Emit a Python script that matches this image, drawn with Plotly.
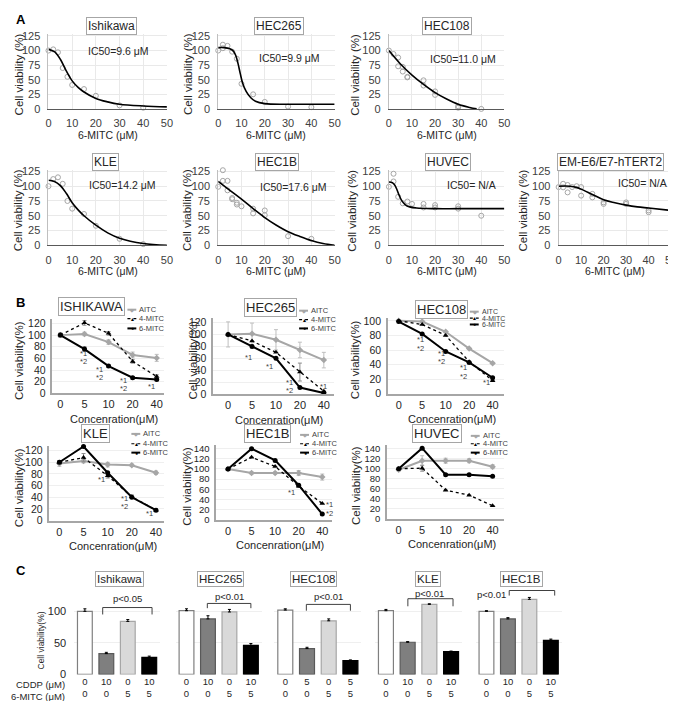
import plotly.graph_objects as go

# ================= DATA =================
# ---- Panel A: 6-MITC dose response (points + fitted curve)
A_TICKS = [0, 10, 20, 30, 40, 50]

ISH_PX = [0, 2, 4, 6, 8, 10, 15, 20, 30, 40]
ISH_PY = [100, 102, 97, 70, 55, 41, 34, 22.5, 6, 2]
ISH_FX = [0, 2.5, 5, 7.5, 10, 12.5, 15, 20, 25, 30, 40, 50]
ISH_FY = [102, 98, 85, 65, 48, 37, 29, 18, 12, 8, 5, 3.5]

H265_PX = [0, 2, 2, 4, 6, 8, 10, 15, 20, 30, 40]
H265_PY = [100, 110, 104, 108, 98, 86, 43, 25, 12, 4, 3]
H265_FX = [0, 2.5, 5, 6.5, 7.5, 8.5, 9.5, 10.5, 12, 14, 16, 20, 30, 50]
H265_FY = [105, 105, 103, 99, 92, 78, 60, 44, 30, 19, 13, 9, 8, 8]

H108_PX = [0, 2, 4, 4, 6, 6, 8, 8, 15, 15, 20, 20, 30, 30, 40]
H108_PY = [100, 94, 88, 73, 72, 64, 55, 54, 49, 40, 30, 24, 4.5, 2, 0]
H108_FX = [0, 5, 10, 15, 20, 25, 30, 35, 38]
H108_FY = [100, 77, 58, 42, 28, 17, 8, 2.5, 0]

KLE_PX = [0, 2, 4, 6, 8, 10, 15, 20, 30, 40]
KLE_PY = [100, 112, 115, 104, 75, 62, 53, 33, 11, 2]
KLE_FX = [0, 2.5, 5, 7.5, 10, 12.5, 15, 20, 25, 30, 40, 50]
KLE_FY = [110, 108, 101, 88, 72, 60, 50, 34, 21, 12, 3, 0]

H1B_PX = [0, 2, 2, 4, 4, 6, 6, 8, 8, 10, 15, 15, 20, 20, 30, 40]
H1B_PY = [99, 127, 109, 109, 93, 80, 78, 69, 72, 66, 62, 54, 59, 51, 15.5, 11]
H1B_FX = [0, 5, 10, 15, 20, 25, 30, 35, 40, 45, 50]
H1B_FY = [108, 93, 78, 62, 47, 34, 23, 15, 8, 3, 0]

HUV_PX = [0, 2, 2, 4, 6, 8, 10, 15, 15, 20, 20, 30, 30, 40]
HUV_PY = [99, 121, 108, 82, 71, 74, 70, 70, 64, 68, 64, 66, 62, 50]
HUV_FX = [0, 1.5, 2.5, 3.5, 4.5, 5.5, 7, 9, 12, 20, 30, 50]
HUV_FY = [107, 106, 102, 94, 84, 76, 69, 65, 63, 62, 62, 62]

EM_PX = [0, 2, 2, 4, 4, 6, 8, 10, 10, 15, 15, 20, 20, 30, 30, 40, 40]
EM_PY = [98.5, 104, 98, 102, 89.5, 98.5, 100, 98.5, 84, 87, 81, 72.6, 70, 72.6, 70, 59, 56]
EM_FX = [0, 5, 8, 10, 15, 20, 25, 30, 35, 40, 50]
EM_FY = [100, 100, 98, 95, 86, 77, 72, 68, 65, 63, 59]

# ---- Panel B: AITC / 4-MITC / 6-MITC
B_CONC = ["0", "5", "10", "20", "40"]

B_ISH_AITC = [100, 102, 88, 66, 61]
B_ISH_AITC_E = [4, 3, 4, 5, 6]
B_ISH_4M = [100, 121, 103, 55, 29]
B_ISH_4M_E = [3, 4, 3, 3, 3]
B_ISH_6M = [100, 76, 47, 27, 24]
B_ISH_6M_E = [2, 4, 2, 2, 2]

B_265_AITC = [100, 101, 91, 74, 57]
B_265_AITC_E = [21, 18, 17, 13, 13]
B_265_4M = [100, 89, 70, 37, 5]
B_265_4M_E = [0, 0, 0, 15, 0]
B_265_6M = [100, 80, 60, 11, 2]
B_265_6M_E = [0, 0, 0, 0, 0]

B_108_AITC = [100, 99, 85, 62, 42]
B_108_AITC_E = [1, 1, 1, 1, 1]
B_108_4M = [100, 95, 80, 44, 18]
B_108_4M_E = [0, 0, 0, 0, 0]
B_108_6M = [99, 82, 58, 43, 22]
B_108_6M_E = [0, 0, 0, 0, 0]

B_KLE_AITC = [98, 102, 96, 95, 82]
B_KLE_AITC_E = [5, 3, 4, 2, 3]
B_KLE_4M = [100, 108, 77, 41, 18]
B_KLE_4M_E = [3, 7, 4, 3, 2]
B_KLE_6M = [100, 127, 82, 40, 18]
B_KLE_6M_E = [0, 0, 0, 0, 0]

B_1B_AITC = [100, 92, 92, 92, 84]
B_1B_AITC_E = [3, 2, 2, 5, 6]
B_1B_4M = [100, 123, 105, 66, 32]
B_1B_4M_E = [0, 0, 0, 0, 0]
B_1B_6M = [100, 140, 117, 68, 11]
B_1B_6M_E = [0, 0, 0, 0, 0]

B_HUV_AITC = [98, 116, 116, 116, 104]
B_HUV_AITC_E = [3, 10, 5, 4, 4]
B_HUV_4M = [100, 101, 57, 47, 26]
B_HUV_4M_E = [0, 6, 0, 0, 0]
B_HUV_6M = [100, 141, 88, 88, 85]
B_HUV_6M_E = [0, 0, 0, 0, 0]

# significance labels (category index, value, label)
B_ISH_SIG = [(0.94, 68, "*1"), (0.94, 54, "*2"), (1.64, 41, "*1"), (1.64, 28, "*2"),
             (2.64, 22.6, "*1"), (2.64, 8.5, "*2"), (3.8, 12, "*1")]
B_265_SIG = [(0.87, 62, "*1"), (1.73, 46, "*1"), (2.56, 19, "*1"), (2.56, 5.5, "*2"), (4.0, 12.6, "*1")]
B_108_SIG = [(0.93, 74, "*1"), (0.93, 62.6, "*2"), (1.81, 55, "*1"), (1.81, 43.7, "*2"),
             (2.74, 35.6, "*1"), (2.74, 24.3, "*2"), (3.75, 15.3, "*1")]
B_KLE_SIG = [(1.75, 71, "*1"), (2.69, 38, "*1"), (2.69, 24, "*2"), (3.75, 13, "*1")]
B_1B_SIG = [(2.7, 53.5, "*1"), (4.3, 29, "*1"), (4.3, 13, "*2")]
B_HUV_SIG = []

# ---- Panel C: CDDP / 6-MITC combination
C_CDDP_ISH = ["0", "10", "0", "10"]
C_CDDP_108 = ["0", "5", "0", "5"]
C_MITC = ["0", "0", "5", "5"]
C_ISH = [100, 33, 84, 27]
C_ISH_E = [4, 2, 3, 2]
C_265 = [101, 88, 99, 46]
C_265_E = [3, 5, 4, 3]
C_108 = [102, 41, 85, 22]
C_108_E = [2, 2, 3, 1]
C_KLE = [101, 51, 111, 36]
C_KLE_E = [2, 1, 1, 1]
C_1B = [100, 88, 119, 54]
C_1B_E = [1, 2, 3, 2]

# ================= FIGURE =================
W, H = 676, 701
FONT = "Liberation Sans, Arial, sans-serif"
TXT = "#262626"


def px(x):
    return x / W


def py(y):
    return 1 - y / H


fig = go.Figure()
axes = {}
annotations = []
shapes = []
counter = [0]


def new_axes(x0, x1, ytop, ybot, xcfg, ycfg):
    counter[0] += 1
    n = counter[0]
    s = "" if n == 1 else str(n)
    axes["xaxis" + s] = dict(domain=[px(x0), px(x1)], anchor="y" + s, fixedrange=True, **xcfg)
    axes["yaxis" + s] = dict(domain=[py(ybot), py(ytop)], anchor="x" + s, fixedrange=True, **ycfg)
    return "x" + s, "y" + s


def ann(x, y, text, size, color=TXT, xanchor="center", yanchor="middle", **kw):
    d = dict(x=px(x), y=py(y), xref="paper", yref="paper", text=text, showarrow=False,
             font=dict(family=FONT, size=size, color=color), xanchor=xanchor, yanchor=yanchor)
    d.update(kw)
    annotations.append(d)


def boxed(x, y, text, size):
    ann(x, y, text, size, bordercolor="#a6a6a6", borderwidth=1, borderpad=1, bgcolor="white")


# ---------------- Panel A ----------------
def panel_a(x0, x1, ybot, scale, pxs, pys, fxs, fys, title, tpos, ic50, ipos, ytx):
    ytop = ybot - 128 * scale
    xcfg = dict(range=[0, 50], tickvals=A_TICKS, showgrid=True, gridcolor="#e9e9e9",
                zeroline=False, showline=True, linecolor="#595959", linewidth=1, ticks="",
                ticklabelstandoff=4, tickfont=dict(family=FONT, size=11, color="#404040"))
    ycfg = dict(range=[0, 128], tickvals=[0, 25, 50, 75, 100, 125], showgrid=True, gridcolor="#e9e9e9",
                zeroline=False, showline=True, linecolor="#bfbfbf", linewidth=1, ticks="",
                ticklabelstandoff=5, tickfont=dict(family=FONT, size=11, color="#404040"))
    xr, yr = new_axes(x0, x1, ytop, ybot, xcfg, ycfg)
    fig.add_trace(go.Scatter(x=pxs, y=pys, mode="markers", xaxis=xr, yaxis=yr, cliponaxis=False,
                             marker=dict(symbol="circle-open", size=5, color="#a6a6a6", line=dict(width=1))))
    fig.add_trace(go.Scatter(x=fxs, y=fys, mode="lines", xaxis=xr, yaxis=yr,
                             line=dict(color="black", width=1.6, shape="spline", smoothing=1.0)))
    boxed(tpos[0], tpos[1], title, 12)
    ann(ipos[0], ipos[1], ic50, 10.5)
    ann(ytx, (ytop + ybot) / 2 + 3, "Cell viability (%)", 11.5, textangle=-90)
    ann((x0 + x1) / 2, ybot + 26, "6-MITC (μM)", 10.5)


panel_a(38, 158, 98.3, 0.592, ISH_PX, ISH_PY, ISH_FX, ISH_FY, "Ishikawa", (102, 14),
        "IC50=9.6 μM", (109, 40), 8)
panel_a(210, 328, 98.3, 0.592, H265_PX, H265_PY, H265_FX, H265_FY, "HEC265", (272, 14),
        "IC50=9.9 μM", (282, 47), 179)
panel_a(383, 500, 98.3, 0.592, H108_PX, H108_PY, H108_FX, H108_FY, "HEC108", (442, 14),
        "IC50=11.0 μM", (458, 48), 348)
panel_a(38, 158, 236.7, 0.6, KLE_PX, KLE_PY, KLE_FX, KLE_FY, "KLE", (96, 152),
        "IC50=14.2 μM", (113, 175), 8)
panel_a(210, 328, 236.7, 0.6, H1B_PX, H1B_PY, H1B_FX, H1B_FY, "HEC1B", (270, 152),
        "IC50=17.6 μM", (286, 178), 179)
panel_a(383, 500, 236.7, 0.6, HUV_PX, HUV_PY, HUV_FX, HUV_FY, "HUVEC", (443, 152),
        "IC50= N/A", (467, 175), 346)
panel_a(555, 669, 236.7, 0.6, EM_PX, EM_PY, EM_FX, EM_FY, "EM-E6/E7-hTERT2", (608, 152),
        "IC50= N/A", (640, 173), 519)

# ---------------- Panel B ----------------
def legend_b(xl, ys, fs):
    items = [("AITC", "#a6a6a6", "solid", "◆", 2), ("4-MITC", "black", "dot", "▲", 1.2),
             ("6-MITC", "black", "solid", "●", 2)]
    for (name, col, dash, glyph, lw), y in zip(items, ys):
        shapes.append(dict(type="line", xref="paper", yref="paper", x0=px(xl), x1=px(xl + 9),
                           y0=py(y), y1=py(y), line=dict(color=col, width=lw, dash=dash)))
        ann(xl + 5, y, glyph, 5, color=col)
        ann(xl + 10, y, name, fs, color="#404040", xanchor="left")


def panel_b(x0, x1, xrange_, ybot, scale, ymax, aitc, aitc_e, m4, m4_e, m6, m6_e, sig,
            title, tpos, leg_x, leg_ys, leg_fs, ytx, yfs=10.5):
    ytop = ybot - ymax * scale
    xcfg = dict(type="category", range=xrange_, showgrid=False, showline=True, linecolor="#a6a6a6",
                linewidth=1.5, ticks="", ticklabelstandoff=0,
                tickfont=dict(family=FONT, size=11, color="#262626"))
    ycfg = dict(range=[0, ymax], tick0=0, dtick=20, showgrid=True, gridcolor="#efefef", zeroline=False,
                showline=True, linecolor="#a6a6a6", linewidth=1.5, ticks="", ticklabelstandoff=3,
                tickfont=dict(family=FONT, size=yfs, color="#262626"))
    xr, yr = new_axes(x0, x1, ytop, ybot, xcfg, ycfg)
    fig.add_trace(go.Scatter(x=B_CONC, y=aitc, mode="lines+markers", xaxis=xr, yaxis=yr, cliponaxis=False,
                             line=dict(color="#a6a6a6", width=2),
                             marker=dict(symbol="diamond", size=5, color="#a6a6a6"),
                             error_y=dict(type="data", array=aitc_e, color="#bfbfbf", thickness=1, width=2)))
    fig.add_trace(go.Scatter(x=B_CONC, y=m4, mode="lines+markers", xaxis=xr, yaxis=yr, cliponaxis=False,
                             line=dict(color="black", width=1.3, dash="dot"),
                             marker=dict(symbol="triangle-up", size=5, color="black"),
                             error_y=dict(type="data", array=m4_e, color="#8c8c8c", thickness=1, width=2)))
    fig.add_trace(go.Scatter(x=B_CONC, y=m6, mode="lines+markers", xaxis=xr, yaxis=yr, cliponaxis=False,
                             line=dict(color="black", width=2),
                             marker=dict(symbol="circle", size=5, color="black"),
                             error_y=dict(type="data", array=m6_e, color="#8c8c8c", thickness=1, width=2)))
    for (ix, val, lab) in sig:
        annotations.append(dict(x=ix, y=val, xref=xr, yref=yr, text=lab, showarrow=False,
                                font=dict(family=FONT, size=7.5, color="#404040")))
    boxed(tpos[0], tpos[1], title, 13)
    legend_b(leg_x, leg_ys, leg_fs)
    ann(ytx, (ytop + ybot) / 2 + 4, "Cell viability(%)", 11.5, textangle=-90)
    ann((x0 + x1) / 2 + 6, ybot + 26, "Concenration(μM)", 11)


panel_b(42, 155, [-0.33, 4.3], 387, 0.592, 128, B_ISH_AITC, B_ISH_AITC_E, B_ISH_4M, B_ISH_4M_E,
        B_ISH_6M, B_ISH_6M_E, B_ISH_SIG, "ISHIKAWA", (82, 299), 118, (302, 311, 321), 7.5, 8)
panel_b(205, 327, [-0.62, 4.41], 387.7, 0.606, 128, B_265_AITC, B_265_AITC_E, B_265_4M, B_265_4M_E,
        B_265_6M, B_265_6M_E, B_265_SIG, "HEC265", (263, 300), 292, (303, 312, 321), 7.5, 184)
panel_b(382, 500, [-0.46, 4.5], 387.3, 0.74, 104, B_108_AITC, B_108_AITC_E, B_108_4M, B_108_4M_E,
        B_108_6M, B_108_6M_E, B_108_SIG, "HEC108", (436, 302), 465, (304, 310.5, 317), 7, 348)
panel_b(39, 155, [-0.41, 4.33], 516, 0.592, 128, B_KLE_AITC, B_KLE_AITC_E, B_KLE_4M, B_KLE_4M_E,
        B_KLE_6M, B_KLE_6M_E, B_KLE_SIG, "KLE", (86, 428), 122, (428, 438, 447), 7.5, 8)
panel_b(208, 325, [-0.5, 4.4], 515, 0.514, 148, B_1B_AITC, B_1B_AITC_E, B_1B_4M, B_1B_4M_E,
        B_1B_6M, B_1B_6M_E, B_1B_SIG, "HEC1B", (260, 428), 293, (429, 438, 447), 7.5, 178, 9.5)
panel_b(381, 500, [-0.5, 4.5], 514, 0.507, 148, B_HUV_AITC, B_HUV_AITC_E, B_HUV_4M, B_HUV_4M_E,
        B_HUV_6M, B_HUV_6M_E, B_HUV_SIG, "HUVEC", (432, 428), 466, (430, 438, 447), 7.5, 349, 9.5)

# ---------------- Panel C ----------------
C_FILL = ["#ffffff", "#7f7f7f", "#d9d9d9", "#000000"]
C_EDGE = ["#7f7f7f", "#595959", "#a6a6a6", "#000000"]


def panel_c(x0, x1, vals, errs, cddp, title, tpos, bracket, ptxt, first=False):
    ybot, scale, ymax = 672, 0.64, 140
    ytop = ybot - ymax * scale
    ticktext = [a + "<br>" + b for a, b in zip(cddp, C_MITC)]
    xcfg = dict(range=[-0.5, 3.5], tickvals=[0, 1, 2, 3], ticktext=ticktext, showgrid=False,
                showline=False, zeroline=False, ticks="", ticklabelstandoff=0,
                tickfont=dict(family=FONT, size=9.5, color="#262626"))
    ycfg = dict(range=[0, ymax], tickvals=[0, 50, 100], showgrid=True, gridcolor="#efefef",
                zeroline=False, showline=False, ticks="", showticklabels=first, ticklabelstandoff=7,
                tickfont=dict(family=FONT, size=11, color="#262626"))
    xr, yr = new_axes(x0, x1, ytop, ybot, xcfg, ycfg)
    fig.add_trace(go.Bar(x=[0, 1, 2, 3], y=vals, width=0.69, xaxis=xr, yaxis=yr,
                         marker=dict(color=C_FILL, line=dict(color=C_EDGE, width=1.2)),
                         error_y=dict(type="data", symmetric=False, array=errs, arrayminus=[0, 0, 0, 0],
                                      color="black", thickness=1, width=1.5)))
    bx1, bx2, yhi, ylo = bracket
    shapes.append(dict(type="path", xref=xr, yref=yr,
                       path="M %s,%s L %s,%s L %s,%s L %s,%s" % (bx1, ylo, bx1, yhi, bx2, yhi, bx2, ylo),
                       line=dict(color="#404040", width=1)))
    annotations.append(dict(x=ptxt[0], y=ptxt[1], xref=xr, yref=yr, text=ptxt[2], showarrow=False,
                            font=dict(family=FONT, size=9.5, color="#262626")))
    boxed(tpos[0], tpos[1], title, 11.5)


panel_c(64, 151, C_ISH, C_ISH_E, C_CDDP_ISH, "Ishikawa", (110, 575), (0.83, 3.13, 106, 95),
        (2.0, 120, "p<0.05"), first=True)
panel_c(167, 254, C_265, C_265_E, C_CDDP_ISH, "HEC265", (212, 575), (0.97, 3.0, 112.5, 105),
        (2.0, 123, "p<0.01"))
panel_c(267, 355, C_108, C_108_E, C_CDDP_108, "HEC108", (307, 575), (0.97, 3.0, 111, 101),
        (2.0, 123, "p<0.01"))
panel_c(369, 457, C_KLE, C_KLE_E, C_CDDP_ISH, "KLE", (423, 575), (1.01, 3.09, 120, 108),
        (2.0, 128, "p<0.01"))
panel_c(471, 558, C_1B, C_1B_E, C_CDDP_ISH, "HEC1B", (517, 575), (1.06, 3.18, 133, 125),
        (0.23, 126.5, "p<0.01"))

ann(30, 638, "Cell viability(%)", 8.5, textangle=-90)
ann(57, 682, "CDDP (μM)", 9.5, xanchor="right")
ann(57, 694, "6-MITC (μM)", 9.5, xanchor="right")

# panel letters
ann(3, 8, "<b>A</b>", 13, color="black", xanchor="left")
ann(3, 295, "<b>B</b>", 13, color="black", xanchor="left")
ann(3, 567, "<b>C</b>", 13, color="black", xanchor="left")

fig.update_layout(width=W, height=H, margin=dict(l=0, r=0, t=0, b=0), showlegend=False,
                  paper_bgcolor="white", plot_bgcolor="white", font=dict(family=FONT),
                  annotations=annotations, shapes=shapes, **axes)
fig.write_html("out.html")
